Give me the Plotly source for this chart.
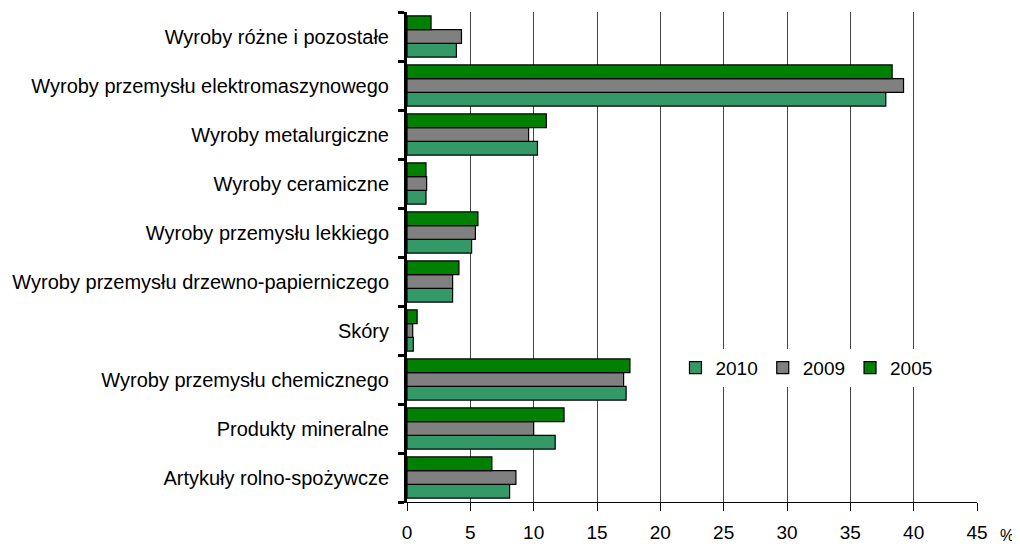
import plotly.graph_objects as go

# kategorie od dołu do góry (plotly rysuje kategorie od dołu)
categories = [
    "Artykuły rolno-spożywcze",
    "Produkty mineralne",
    "Wyroby przemysłu chemicznego",
    "Skóry",
    "Wyroby przemysłu drzewno-papierniczego",
    "Wyroby przemysłu lekkiego",
    "Wyroby ceramiczne",
    "Wyroby metalurgiczne",
    "Wyroby przemysłu elektromaszynowego",
    "Wyroby różne i pozostałe",
]

vals_2010 = [8.1, 11.7, 17.3, 0.5, 3.6, 5.1, 1.5, 10.3, 37.8, 3.9]
vals_2009 = [8.6, 10.0, 17.1, 0.45, 3.6, 5.4, 1.55, 9.6, 39.2, 4.3]
vals_2005 = [6.7, 12.4, 17.6, 0.8, 4.1, 5.6, 1.5, 11.0, 38.3, 1.9]

x_ticks = [0, 5, 10, 15, 20, 25, 30, 35, 40, 45]

FONT = "Liberation Sans, Arial, sans-serif"

fig = go.Figure()

# kolejność śladów: 2010 na dole grupy, 2005 na górze
for name, vals, color in [
    ("2010", vals_2010, "#339966"),
    ("2009", vals_2009, "#808080"),
    ("2005", vals_2005, "#008000"),
]:
    fig.add_trace(go.Bar(
        y=categories,
        x=vals,
        name=name,
        orientation="h",
        marker=dict(color=color, line=dict(color="black", width=1.2)),
    ))

# strona ma 8px marginesu body, więc figura jest o 8px mniejsza
fig.update_layout(
    width=1012,
    height=539,
    barmode="group",
    bargap=0.16,
    bargroupgap=0,
    plot_bgcolor="white",
    paper_bgcolor="white",
    margin=dict(l=392, r=43, t=4, b=43),
    font=dict(family=FONT, size=19, color="black"),
    legend=dict(
        orientation="h",
        x=0.471, y=0.274,
        xanchor="left", yanchor="middle",
        bgcolor="white",
        font=dict(size=19),
        itemwidth=30,
        traceorder="normal",
    ),
    xaxis=dict(
        range=[0, 45],
        tickvals=x_ticks,
        showgrid=True,
        gridcolor="#444",
        gridwidth=1,
        zeroline=False,
        showline=True,
        linecolor="black",
        linewidth=1,
        ticks="outside",
        ticklen=8,
        tickcolor="black",
        ticklabelstandoff=5,
        tickfont=dict(size=19),
        fixedrange=True,
    ),
    yaxis=dict(
        showline=True,
        linecolor="black",
        linewidth=3,
        ticks="outside",
        tickson="boundaries",
        ticklen=6,
        tickwidth=3,
        tickcolor="black",
        ticklabelstandoff=11,
        tickfont=dict(size=20),
        showgrid=False,
    ),
    annotations=[
        dict(
            text="%", xref="paper", yref="paper",
            x=1.053, y=-0.068, xanchor="center", yanchor="middle",
            showarrow=False, font=dict(size=16),
        )
    ],
)

fig.write_html("out.html")
